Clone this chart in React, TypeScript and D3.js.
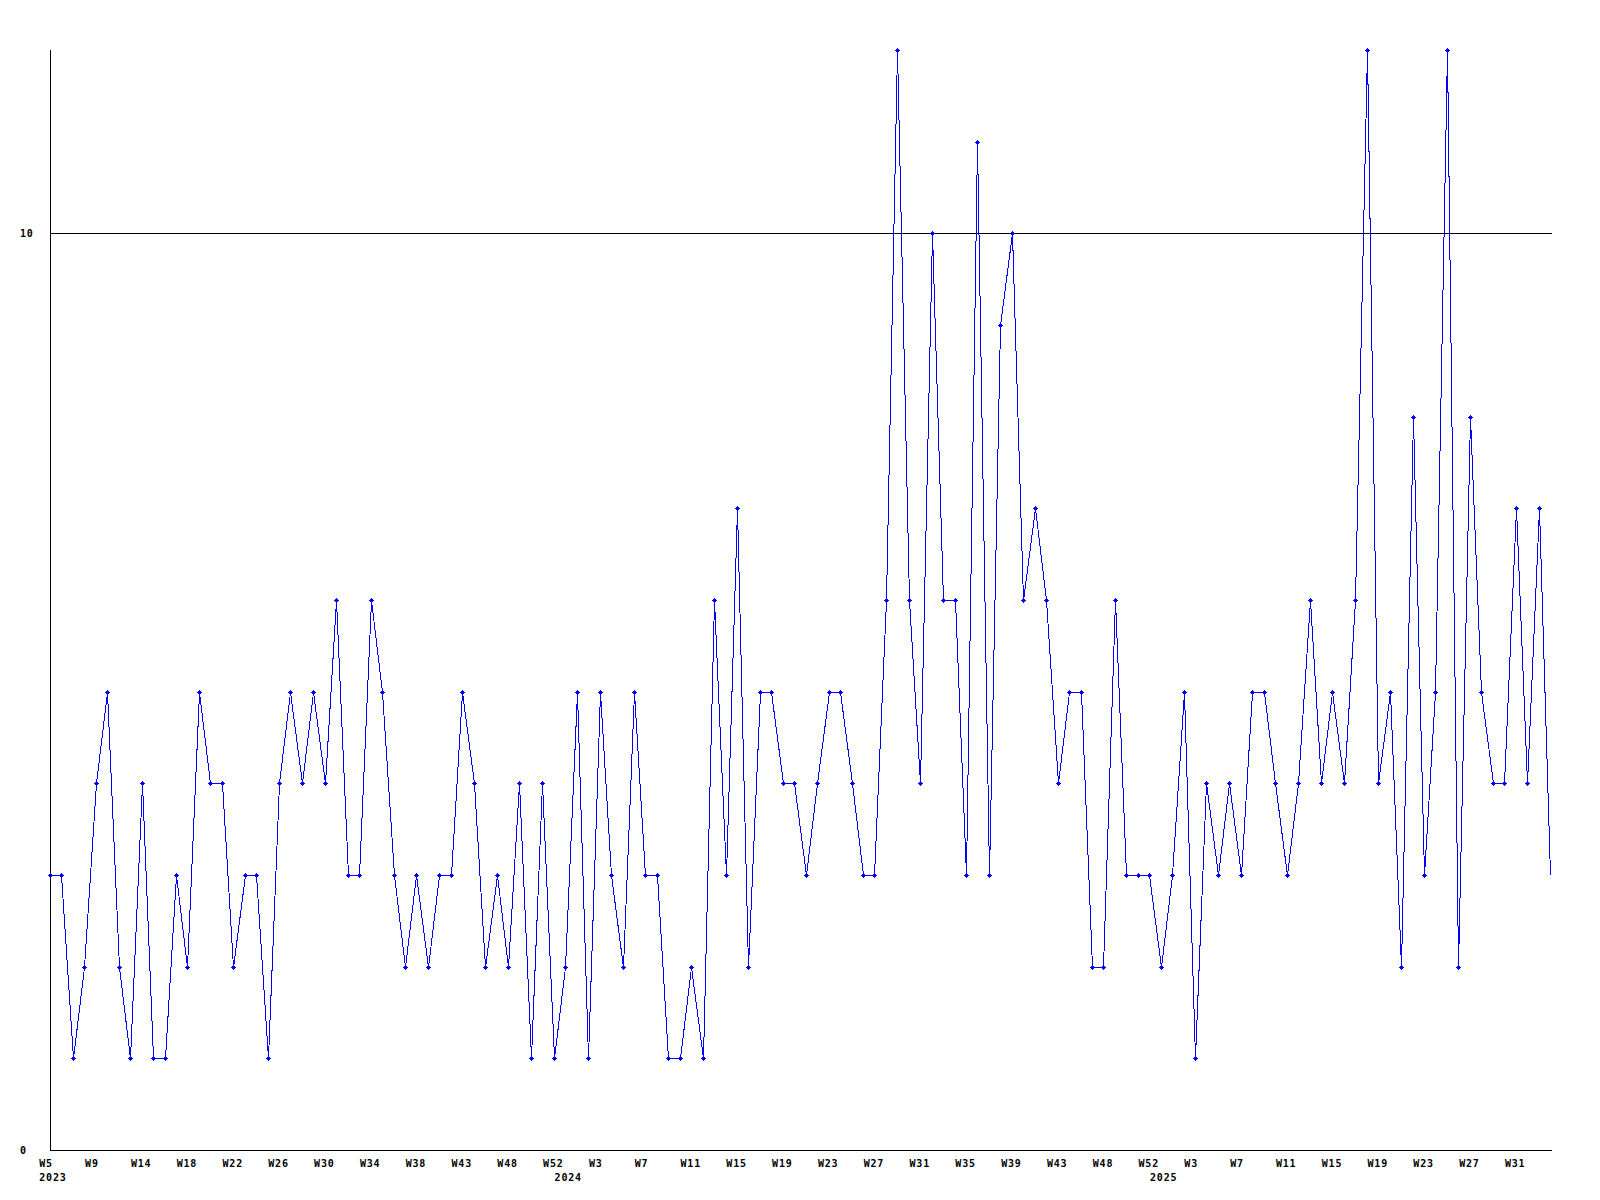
import React from "react";
import * as d3 from "d3";

// weekly values, 2023 W5 onwards
const values: number[] = [
  3, 3, 1, 2, 4, 5, 2, 1, 4, 1, 1, 3, 2, 5, 4, 4, 2, 3, 3, 1, 4, 5, 4, 5, 4, 6, 3, 3, 6, 5, 3, 2, 3, 2, 3,
  3, 5, 4, 2, 3, 2, 4, 1, 4, 1, 2, 5, 1, 5, 3, 2, 5, 3, 3, 1, 1, 2, 1, 6, 3, 7, 2, 5, 5, 4, 4, 3, 4,
  5, 5, 4, 3, 3, 6, 12, 6, 4, 10, 6, 6, 3, 11, 3, 9, 10, 6, 7, 6, 4, 5, 5, 2,
  2, 6, 3, 3, 3, 2, 3, 5, 1, 4, 3, 4, 3, 5, 5, 4, 3, 4, 6, 4, 5, 4, 6, 12, 4, 5, 2, 8, 3, 5, 12, 2, 8, 5, 4, 4, 7, 4, 7, 3,
];

const tickLabels: string[] = [
  "W5", "W9", "W14", "W18", "W22", "W26", "W30", "W34", "W38", "W43", "W48", "W52",
  "W3", "W7", "W11", "W15", "W19", "W23", "W27", "W31", "W35", "W39", "W43", "W48", "W52",
  "W3", "W7", "W11", "W15", "W19", "W23", "W27", "W31",
];
const tickStep = 4;

const yearLabels: string[] = ["2023", "2024", "2025"];
const yearIndex: number[] = [0, 45, 97];

const yTicks: number[] = [0, 10];
const yMax = 12;

const W = 1600;
const H = 1200;
const left = 50;
const right = 1550;
const axisRight = 1551;
const top = 50;
const bottom = 1150;

const font = {
  fontFamily: "'DejaVu Sans Mono', 'Liberation Mono', monospace",
  fontWeight: 700 as const,
  fontSize: 10,
  letterSpacing: 0.8,
};

export default function App() {
  const x = d3.scaleLinear().domain([0, values.length - 1]).range([left, right]);
  const y = d3.scaleLinear().domain([0, yMax]).range([bottom, top]);

  const line = d3
    .line<number>()
    .x((_, i) => Math.round(x(i)) + 0.5)
    .y((d) => Math.round(y(d)) + 0.5);

  return (
    <svg
      width={W}
      height={H}
      style={{ position: "absolute", left: 0, top: 0, display: "block", background: "#fff" }}
    >
      <rect x={0} y={0} width={W} height={H} fill="#fff" />
      {/* axes */}
      <g shapeRendering="crispEdges" stroke="#000" strokeWidth={1}>
        <line x1={left + 0.5} x2={left + 0.5} y1={top} y2={bottom + 1} />
        <line x1={left} x2={axisRight + 1} y1={bottom + 0.5} y2={bottom + 0.5} />
        {yTicks
          .filter((t) => t !== 0)
          .map((t) => (
            <line key={t} x1={left} x2={axisRight + 1} y1={Math.round(y(t)) + 0.5} y2={Math.round(y(t)) + 0.5} />
          ))}
      </g>
      {/* y labels */}
      {yTicks.map((t) => (
        <text key={"y" + t} x={20} y={y(t) + 4} {...font} fill="#000">
          {t}
        </text>
      ))}
      {/* x tick labels */}
      {tickLabels.map((lab, k) => (
        <text key={"t" + k} x={x(k * tickStep) - 10.7} y={1166.5} {...font} fill="#000">
          {lab}
        </text>
      ))}
      {yearLabels.map((lab, k) => (
        <text key={"yr" + k} x={x(yearIndex[k]) - 10.7} y={1181} {...font} fill="#000">
          {lab}
        </text>
      ))}
      {/* data */}
      <path d={line(values) || ""} fill="none" stroke="#0000ff" strokeWidth={1} shapeRendering="crispEdges" />
      <g fill="#0000ff" shapeRendering="crispEdges">
        {values.slice(0, values.length - 1).map((v, i) => {
          const cx = Math.round(x(i));
          const cy = Math.round(y(v));
          return (
            <g key={"m" + i}>
              <rect x={cx - 2} y={cy} width={5} height={1} />
              <rect x={cx} y={cy - 2} width={1} height={5} />
              <rect x={cx - 1} y={cy - 1} width={3} height={3} />
            </g>
          );
        })}
      </g>
    </svg>
  );
}
